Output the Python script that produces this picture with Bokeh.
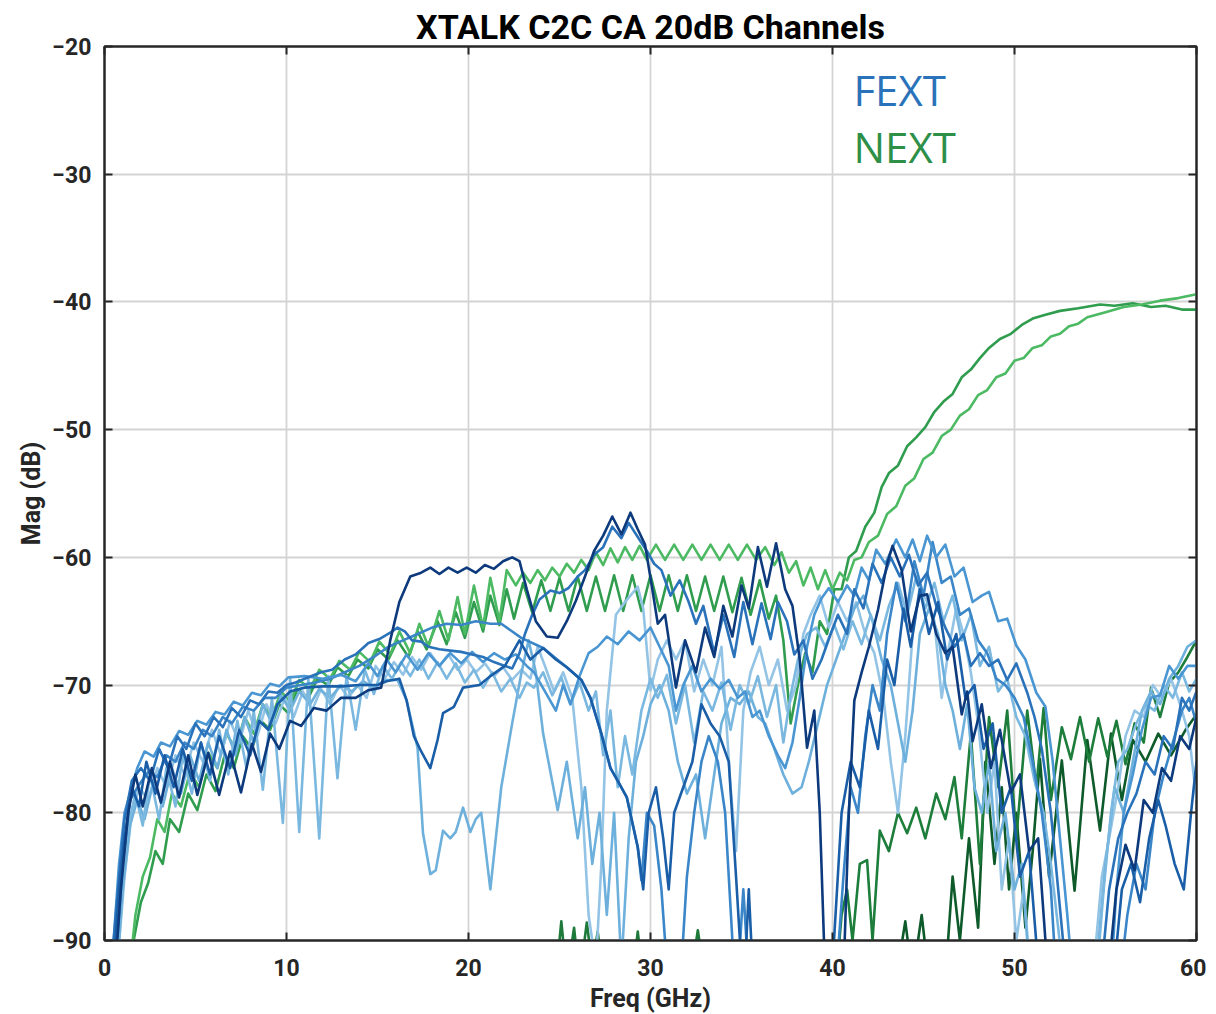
from bokeh.plotting import figure
from bokeh.models import LinearAxis, Label, FixedTicker, Range1d
from bokeh.embed import file_html
from bokeh.resources import INLINE

title_text = "XTALK C2C CA 20dB Channels"
x_label = "Freq (GHz)"
y_label = "Mag (dB)"
x_ticks = [0, 10, 20, 30, 40, 50, 60]
y_ticks = [-90, -80, -70, -60, -50, -40, -30, -20]
legend_names = ["FEXT", "NEXT"]

# ---------------- NEXT curves (freq GHz, mag dB) ----------------
next_light = [(1.4, -92), (1.7, -88), (2.1, -85), (2.5, -83.5), (2.9, -80.5), (3.3, -81.5), (3.7, -78.5), (4.2, -79.5),
              (4.7, -76.8), (5.2, -78), (5.7, -75.3), (6.2, -76.5), (6.7, -73.8), (7.2, -75), (7.7, -72.5), (8.2, -73.8),
              (8.7, -71.5), (9.2, -72.5), (9.7, -70.5), (10.2, -71.3), (10.7, -69.6), (11.3, -70.3), (11.8, -68.8),
              (12.4, -69.5), (12.9, -68.1), (13.5, -68.8), (14, -67.4), (14.6, -68.2), (15.1, -66.6), (15.7, -67.6),
              (16.2, -65.8), (16.8, -67.5), (17.3, -65.2), (17.8, -67), (18.4, -64.2), (18.9, -66.5), (19.4, -63.1),
              (19.8, -66), (20.3, -62.2), (20.8, -65.5), (21.2, -61.6), (21.7, -65), (22.1, -61), (22.6, -62.2),
              (23, -61.2), (23.4, -62), (23.8, -61), (24.2, -61.8), (24.6, -60.8), (25, -61.5), (25.4, -60.5),
              (25.8, -61.2), (26.2, -60.2), (26.6, -61), (27, -59.6), (27.4, -60.6), (27.8, -59.3), (28.2, -60.4),
              (28.6, -59.2), (29, -60.2), (29.4, -59.1), (29.8, -60.2), (30.3, -59), (30.8, -60.2), (31.3, -59),
              (31.8, -60.2), (32.3, -59), (32.8, -60.2), (33.3, -59), (33.8, -60.2), (34.3, -59), (34.8, -60.2),
              (35.3, -59), (35.8, -60.2), (36.3, -59.2), (36.8, -60.6), (37.2, -59.6), (37.6, -61.2), (38, -60.3),
              (38.4, -62.2), (38.8, -60.8), (39.2, -62.5), (39.6, -61), (40, -62.5), (40.4, -61.2), (40.8, -61.8),
              (41.2, -60.2), (41.6, -60), (42, -58.8), (42.5, -58.3), (43, -56.6), (43.5, -56), (44, -54.4),
              (44.5, -53.8), (45, -52.3), (45.5, -51.8), (46, -50.5), (46.5, -50), (47, -48.9), (47.5, -48.4),
              (48, -47.3), (48.5, -46.9), (49, -45.9), (49.5, -45.6), (50, -44.6), (50.5, -44.4), (51, -43.6),
              (51.5, -43.4), (52, -42.7), (52.5, -42.5), (53, -41.9), (53.5, -41.7), (54, -41.2), (55, -40.8),
              (56, -40.4), (57, -40.2), (58, -39.9), (59, -39.7), (60, -39.4)]

next_mid = [(1.3, -92), (1.6, -90), (2, -87), (2.4, -85.5), (2.8, -83), (3.2, -84), (3.6, -80.5), (4.1, -81.5),
            (4.6, -78.5), (5.1, -79.8), (5.6, -77), (6.1, -78.3), (6.6, -75.5), (7.1, -76.5), (7.6, -74), (8.1, -75),
            (8.6, -72.8), (9.1, -73.5), (9.6, -71.5), (10.1, -72.2), (10.6, -70.3), (11.2, -71), (11.7, -69.5),
            (12.3, -70), (12.8, -68.6), (13.4, -69.3), (13.9, -68), (14.5, -68.7), (15, -67.2), (15.6, -68),
            (16.1, -66.5), (16.7, -67.8), (17.2, -65.8), (17.7, -67.2), (18.3, -65), (18.8, -66.8), (19.3, -64.3),
            (19.8, -66.3), (20.3, -63.5), (20.8, -65.8), (21.2, -63), (21.7, -65.3), (22.1, -62.5), (22.5, -64.8),
            (23, -62), (23.5, -64.3), (24, -61.8), (24.5, -64.2), (25, -61.6), (25.5, -64.2), (26, -61.5),
            (26.5, -64.2), (27, -61.5), (27.5, -64.2), (28, -61.4), (28.5, -64.2), (29, -61.4), (29.5, -64.2),
            (30, -61.4), (30.5, -64.2), (31, -61.4), (31.5, -64.2), (32, -61.4), (32.5, -64.2), (33, -61.5),
            (33.5, -64.2), (34, -61.5), (34.5, -64.3), (35, -61.6), (35.5, -64.5), (36, -61.8), (36.5, -64.8),
            (36.9, -63), (37.3, -66.5), (37.7, -73), (38.1, -70), (38.5, -67.5), (38.9, -69), (39.3, -65),
            (39.7, -66), (40.1, -62.5), (40.5, -62.5), (40.9, -60), (41.3, -59.5), (41.8, -57.6), (42.3, -56.5),
            (42.7, -54.5), (43.1, -53.4), (43.6, -52.8), (44.1, -51.3), (44.6, -50.6), (45.1, -49.8), (45.6, -48.6),
            (46.1, -47.8), (46.6, -47.2), (47.1, -45.9), (47.6, -45.3), (48.1, -44.4), (48.6, -43.6), (49.2, -42.9),
            (49.8, -42.5), (50.4, -41.8), (51, -41.3), (51.7, -41), (52.5, -40.7), (53.5, -40.5), (54.7, -40.2),
            (55.5, -40.3), (56.5, -40.1), (57.5, -40.4), (58.3, -40.3), (59.2, -40.6), (60, -40.6)]

next_dark = [(40.2, -93), (40.5, -88), (40.8, -86), (41.1, -90), (41.5, -84), (41.9, -83.7), (42.2, -90), (42.6, -81.4),
             (43.1, -83), (43.6, -80), (44.1, -81.6), (44.6, -79.6), (45.1, -82), (45.7, -78.5), (46.2, -80.5),
             (46.7, -77.2), (47.1, -82), (47.6, -73.8), (48.1, -84), (48.6, -72.5), (49.1, -78), (49.6, -72),
             (50.1, -82), (50.7, -72), (51.2, -78), (51.6, -71.8), (52, -79), (52.6, -73.3), (53.1, -75.8),
             (53.6, -72.5), (54.1, -76), (54.6, -72.6), (55.1, -75.6), (55.6, -72.8), (56.1, -76.2), (56.6, -73),
             (57.1, -74.5), (57.5, -70.2), (58, -72.5), (58.5, -69.8), (59, -69), (59.5, -67.8), (60, -66.5)]

next_darkest = [(43.5, -93), (44, -88.5), (44.4, -93), (44.9, -88), (45.3, -93), (46.2, -93), (46.6, -85), (47, -90),
                (47.5, -82), (48, -89), (48.4, -76), (48.9, -84), (49.3, -78), (49.7, -86), (50.1, -80), (50.6, -89),
                (51, -83), (51.4, -75.8), (51.9, -85), (52.6, -75.9), (53.3, -86.1), (54, -74.3), (54.7, -81.4),
                (55.3, -73.8), (55.9, -79), (56.5, -74.3), (57.2, -76), (57.9, -73.8), (58.6, -75.5), (59.4, -73.5),
                (60, -72.3)]

next_floor = [(24.8, -93), (25.1, -88.5), (25.4, -93), (25.8, -89), (26.1, -93), (26.5, -88.6), (26.8, -92),
              (27.1, -89.3), (27.4, -93), (29, -93), (29.3, -89.3), (29.6, -93), (32.2, -93), (32.6, -89.2),
              (33, -93)]

# ---------------- FEXT curves (freq GHz, mag dB) ----------------
fext_navy = [(0.6, -92), (0.9, -86), (1.3, -80), (1.7, -77), (2.1, -79.5), (2.6, -76.5), (3.1, -79.2), (3.6, -76),
             (4.1, -78.8), (4.6, -75.5), (5.1, -78.6), (5.7, -75.3), (6.3, -78.6), (6.9, -75.2), (7.5, -78.4),
             (8.1, -74.6), (8.6, -76.8), (9.1, -73.8), (9.6, -75), (10.2, -72.8), (10.8, -73.2), (11.5, -71.8),
             (12.2, -72), (13, -71), (13.8, -71), (14.5, -70.4), (15.2, -70.2), (15.7, -66.5), (16.2, -63.5),
             (16.8, -61.5), (17.4, -61.2), (17.9, -60.8), (18.4, -61.3), (18.9, -60.8), (19.4, -61.2), (19.9, -60.8),
             (20.4, -61.2), (20.9, -60.6), (21.4, -60.9), (21.9, -60.3), (22.4, -60), (22.8, -60.3), (23.2, -62.5),
             (23.7, -65), (24.3, -66.2), (24.9, -66.3), (25.4, -65), (25.9, -63.4), (26.4, -61.5), (26.9, -59.5),
             (27.4, -58.3), (27.9, -56.8), (28.4, -58.2), (28.9, -56.5), (29.3, -57.8), (29.7, -59), (30.1, -62.5),
             (30.4, -65.2), (30.8, -64.5), (31.4, -70.2), (31.9, -66.5), (32.5, -69), (33, -65.5), (33.5, -67.8),
             (34, -63.8), (34.5, -66.2), (35, -62.2), (35.4, -64), (35.9, -59.2), (36.4, -62.3), (36.9, -58.9),
             (37.4, -62.5), (37.8, -63.8), (38.2, -68), (38.6, -74.9), (39, -72), (39.3, -80), (39.6, -93),
             (40.6, -93), (40.9, -80), (41.2, -71.2), (41.6, -69), (42, -67), (42.5, -64.1), (43, -60.5),
             (43.3, -59.1), (43.8, -61), (44.3, -65.8), (44.8, -63), (45.2, -62.9), (45.7, -66), (46.2, -67.5),
             (46.6, -67), (47.1, -72.3), (47.4, -70.5), (47.7, -74.4), (48.2, -71.5), (48.7, -76.5), (49.2, -73.5),
             (49.8, -78.4), (50.3, -77), (50.8, -83), (51.3, -82), (51.8, -92), (55.2, -92), (55.6, -86),
             (56.1, -82.5), (56.6, -84.5), (57.1, -79), (57.6, -80), (58.1, -76.5), (58.6, -77.5), (59.1, -74),
             (59.6, -75), (60, -72.5)]

fext_dark = [(0.5, -92), (0.8, -86), (1.1, -82), (1.5, -78), (1.9, -79.5), (2.3, -76), (2.8, -78.5), (3.3, -75.5),
             (3.8, -78), (4.3, -75), (4.8, -77.5), (5.3, -74.5), (5.8, -77), (6.3, -74), (6.9, -76.5), (7.4, -73.5),
             (8, -75.5), (8.5, -72.8), (9, -73.5), (9.5, -71.5), (10.2, -70.5), (11, -70.2), (12, -70.1), (13, -70.1),
             (14, -70), (15, -70), (15.5, -69.7), (16.2, -69.5), (16.6, -71.2), (17, -74), (17.4, -75.2), (17.9, -76.5),
             (18.3, -74.3), (18.6, -72.2), (19.2, -71.7), (19.7, -70.2), (20.6, -70), (21.3, -69.2), (22, -68.5),
             (22.8, -66.5), (23.4, -68), (24.1, -67.1), (24.8, -68), (25.4, -68.6), (26.2, -69.6), (26.7, -71),
             (27.3, -73.8), (27.8, -76.5), (28.2, -77.5), (28.7, -78.8), (29.3, -82.7), (29.6, -86), (29.9, -80),
             (30.3, -78), (30.7, -82), (31, -86), (31.3, -80), (31.8, -78), (32.3, -76), (32.8, -71.5), (33.3, -73),
             (33.8, -74), (34.3, -76), (34.7, -85), (35, -92), (35.2, -92), (35.4, -86), (35.6, -92), (39.5, -92),
             (40, -92), (40.5, -80), (41, -76), (41.5, -78), (42, -72), (42.5, -75), (43, -68), (43.4, -70),
             (43.9, -64), (44.3, -67), (44.8, -62.5), (45.3, -66), (45.8, -63.5), (46.3, -68), (46.8, -66),
             (47.3, -71), (47.8, -70), (48.3, -75), (48.8, -73), (49.3, -80), (49.8, -78), (50.3, -85), (50.8, -83),
             (51.3, -92), (55.5, -92), (55.9, -86), (56.4, -84), (56.9, -87), (57.4, -82), (57.9, -79), (58.3, -81),
             (58.8, -84), (59.3, -86), (59.7, -80), (60, -76)]

fext_mid = [(0.5, -90), (0.8, -85), (1.1, -80.5), (1.5, -77.5), (2, -76.5), (2.5, -77.5), (3, -75), (3.5, -76.5),
            (4, -74), (4.5, -75), (5, -73), (5.5, -74), (6, -72.5), (6.5, -73.3), (7, -71.8), (7.5, -72.5),
            (8, -71.2), (8.5, -71.5), (9, -70.5), (9.5, -70.6), (10, -70), (10.5, -69.8), (11, -69.5), (11.9, -69),
            (12.5, -68.8), (13.2, -68), (13.8, -67.6), (14.5, -66.7), (15.1, -66.4), (15.7, -65.9), (16.1, -65.5),
            (16.5, -65.8), (16.9, -66.5), (17.4, -66.6), (17.8, -67), (18.4, -67.2), (19, -67.3), (19.6, -67.4),
            (20.2, -67.6), (20.8, -67.8), (21.4, -68.2), (22, -68.5), (22.4, -68.7), (22.8, -67.5), (23.1, -66),
            (23.5, -64.5), (23.9, -63.3), (24.5, -62.6), (25, -62.8), (25.5, -62.4), (26, -61.5), (26.4, -61),
            (26.9, -59.8), (27.4, -59.2), (27.9, -57.6), (28.4, -58.5), (28.8, -57.3), (29.3, -58.4), (29.8, -59.5),
            (30.2, -60.5), (30.6, -61), (31.1, -63), (31.6, -61.8), (32.1, -63.5), (32.5, -65.2), (32.9, -63.8),
            (33.5, -67.5), (34, -64.5), (34.6, -67.8), (35.1, -63.5), (35.6, -66.8), (36.1, -63.6), (36.6, -66.4),
            (37, -63.5), (37.5, -65), (37.9, -67.6), (38.4, -66.5), (38.9, -69.5), (39.4, -68), (39.9, -66),
            (40.3, -64.5), (40.8, -66), (41.2, -62.5), (41.7, -64), (42.2, -60.5), (42.7, -62), (43.2, -60),
            (43.7, -61.5), (44.2, -59.8), (44.7, -62.2), (45.2, -61.2), (45.7, -63.8), (46.2, -65.5), (46.7, -67),
            (47.2, -66), (47.6, -68.5), (48.1, -67.5), (48.6, -68.5), (49.1, -68), (49.6, -69.6), (50.1, -68.3),
            (50.7, -70.6), (51.1, -72.5), (51.5, -75), (52, -80), (52.4, -86), (52.8, -92), (54.8, -92), (55.2, -86),
            (55.7, -82), (56.2, -80), (56.7, -78.5), (57.2, -76), (57.7, -77), (58.2, -74), (58.7, -75), (59.2, -71),
            (59.6, -72), (60, -70.5)]

fext_blue = [(0.5, -90), (0.8, -84), (1.1, -80), (1.4, -78.5), (1.8, -76.5), (2.2, -75.2), (2.7, -75.6), (3.1, -74.5),
             (3.6, -74.8), (4.1, -73.6), (4.6, -73.9), (5.1, -72.8), (5.6, -73.1), (6.1, -72.1), (6.6, -72.3),
             (7.1, -71.3), (7.6, -71.6), (8.1, -70.6), (8.6, -70.8), (9.1, -69.9), (9.6, -70.1), (10.1, -69.4),
             (11, -69.3), (12, -69.5), (13, -69.2), (13.8, -69.7), (14.5, -68.3), (15, -69.3), (15.5, -68), (16, -69),
             (16.6, -67.6), (17.2, -68.8), (17.8, -67.5), (18.4, -68.5), (19, -67.5), (19.6, -68.3), (20.2, -67.4),
             (20.8, -68.2), (21.4, -67.5), (22, -68), (22.6, -67.6), (23.2, -68.5), (23.6, -69), (24.2, -70.5),
             (24.8, -72), (25.2, -70), (25.6, -71.5), (26.1, -69.3), (26.6, -67.5), (27.1, -67), (27.6, -66.2),
             (28.2, -66.8), (28.8, -65.8), (29.4, -66.5), (30, -65.5), (30.5, -67), (31, -68.5), (31.4, -72),
             (31.8, -70), (32.3, -68.5), (32.8, -70.5), (33.3, -69.5), (33.8, -70.3), (34.3, -69.6), (34.8, -71),
             (35.2, -70.5), (35.6, -72.5), (36, -72), (36.5, -74), (37, -75.5), (37.4, -76.5), (37.8, -74.5),
             (38.2, -71), (38.6, -67), (39, -64.5), (39.4, -63.2), (39.8, -62.4), (40.3, -63.5), (40.8, -62.2),
             (41.2, -63), (41.6, -60.8), (42, -61.8), (42.4, -59.4), (42.9, -60.5), (43.5, -58.6), (44, -60),
             (44.4, -58.6), (44.8, -60.3), (45.2, -58.3), (45.7, -60), (46.2, -59), (46.7, -61.5), (47.2, -60.8),
             (47.7, -63.5), (48.2, -63), (48.6, -62.7), (49.1, -65), (49.6, -64.8), (50.1, -66.9), (50.6, -68),
             (51.2, -70.6), (51.7, -71.7), (52.1, -76), (52.5, -82), (52.9, -88), (53.2, -93), (55.3, -93),
             (55.6, -86), (56, -80), (56.5, -77), (57, -73.5), (57.5, -71), (58, -70.8), (58.5, -68.5), (59, -69.5),
             (59.5, -68.5), (60, -68.5)]

fext_light = [(0.6, -92), (0.9, -86), (1.3, -81), (1.7, -78.5), (2.1, -81), (2.5, -77), (3, -80.5), (3.4, -76.5),
              (3.9, -79.5), (4.3, -75.5), (4.8, -78.5), (5.3, -74.5), (5.8, -77.5), (6.3, -73.5), (6.8, -77),
              (7.3, -72.8), (7.8, -76.5), (8.2, -72), (8.7, -78.2), (9.2, -71), (9.8, -80.8), (10.2, -69.5),
              (10.7, -81.5), (11.2, -69.5), (11.8, -82), (12.3, -69.3), (12.8, -77.3), (13.3, -69.3), (13.8, -73.5),
              (14.3, -68.8), (14.8, -70.7), (15.3, -68.5), (15.8, -69.5), (16.3, -68.2), (16.8, -69.3), (17.3, -68),
              (17.8, -69.5), (18.3, -68.2), (18.8, -69.5), (19.3, -68.3), (19.8, -69.8), (20.3, -68.8), (20.8, -70.2),
              (21.3, -69), (21.8, -70.5), (22.3, -69.5), (22.8, -71), (23.2, -69.8), (23.6, -70.2), (24.1, -69),
              (24.6, -70.8), (25.1, -69.4), (25.6, -71.5), (26.1, -69.8), (26.6, -72), (27, -70.5), (27.4, -75.5),
              (27.8, -72), (28.2, -78), (28.6, -74), (29, -77), (29.5, -72), (30, -69.5), (30.4, -71), (30.9, -69.2),
              (31.4, -73), (31.9, -70), (32.4, -74.5), (32.9, -70.5), (33.4, -72), (33.9, -69.8), (34.4, -73.5),
              (34.9, -70), (35.4, -71.5), (35.9, -69.3), (36.4, -72.5), (36.9, -70), (37.3, -74.5), (37.7, -70.8),
              (38.1, -68), (38.6, -66), (39.1, -65.5), (39.6, -67), (40.1, -65.3), (40.6, -67.2), (41.1, -65),
              (41.6, -66.8), (42.1, -64.5), (42.6, -66.5), (43.1, -63.8), (43.6, -62), (44.1, -64.5), (44.6, -61.5),
              (45.1, -64), (45.6, -62), (46.1, -65), (46.6, -63), (47.1, -66.5), (47.6, -64.5), (48.1, -68.5),
              (48.6, -67), (49.1, -70.5), (49.6, -69.5), (50.1, -72.5), (50.6, -74), (51.1, -77.5), (51.6, -80),
              (52, -84), (52.4, -89), (52.7, -93), (54.5, -93), (54.9, -86), (55.3, -80), (55.7, -76), (56.2, -75),
              (56.7, -73), (57.2, -71.5), (57.7, -72), (58.2, -70), (58.7, -71), (59.2, -69), (59.6, -70.5),
              (60, -69.5)]

fext_light2 = [(0.7, -92), (1, -86), (1.4, -81), (1.8, -79), (2.2, -80.5), (2.7, -77.5), (3.2, -79.5), (3.7, -76.5),
               (4.2, -78.5), (4.7, -75.5), (5.2, -77.5), (5.7, -74.5), (6.2, -76.5), (6.7, -73.5), (7.2, -75.5),
               (7.7, -72.5), (8.2, -74.5), (8.7, -71.5), (9.2, -73), (9.7, -70.8), (10.2, -72), (10.7, -70.5),
               (11.3, -71.5), (11.8, -70.3), (12.4, -71), (13, -70), (13.6, -70.5), (14.2, -69.7), (14.8, -70.2),
               (15.4, -69.6), (16.1, -69.6), (16.6, -71.2), (17.2, -74.9), (17.5, -81.6), (17.9, -84.8), (18.2, -84.5),
               (18.6, -81.4), (19, -82), (19.3, -81.5), (19.7, -79.6), (20.1, -81.5), (20.4, -80.5), (20.7, -80),
               (21.2, -86), (21.8, -78), (22.4, -73), (22.9, -69.1), (23.3, -66.5), (23.7, -69), (24.1, -73.8),
               (24.9, -79.8), (25.4, -76), (26, -82), (26.4, -78), (26.8, -84), (27.2, -80), (27.6, -88), (28, -80),
               (28.4, -92), (28.8, -82), (29.2, -76), (29.6, -74), (30, -71.5), (30.5, -70), (31, -72), (31.5, -76),
               (32, -78.5), (32.5, -77), (33, -82), (33.4, -78), (33.9, -73), (34.4, -71), (34.9, -71.5), (35.4, -70.5),
               (35.9, -72.5), (36.3, -73), (36.8, -75), (37.3, -77), (37.8, -78.5), (38.3, -78), (38.7, -76),
               (39.2, -73), (39.7, -70), (40.2, -68), (40.7, -66), (41.2, -64), (41.7, -63), (42.2, -65), (42.7, -68),
               (43.2, -70), (43.6, -73), (44, -76), (44.4, -72), (44.8, -66), (45.3, -64), (45.8, -66), (46.2, -70),
               (46.6, -72), (47, -75), (47.4, -71.5), (47.8, -78), (48.2, -80), (48.6, -76), (49, -83), (49.5, -80),
               (50, -86), (50.4, -84), (50.8, -92), (54.5, -92), (55, -84), (55.5, -78), (56, -80), (56.5, -76),
               (57, -72), (57.5, -70.5), (58, -71.5), (58.5, -69.5), (59, -68.5), (59.5, -67), (60, -66.5)]

fext_pale = [(0.7, -92), (1.1, -85), (1.5, -80), (1.9, -78), (2.4, -79), (2.9, -76.5), (3.4, -78), (3.9, -75.5),
             (4.4, -77), (4.9, -74.5), (5.4, -76), (5.9, -73.5), (6.4, -75.5), (6.9, -72.8), (7.4, -74.5), (7.9, -72),
             (8.4, -74), (8.9, -71.5), (9.4, -73), (9.9, -71), (10.4, -72.5), (10.9, -70.5), (11.4, -72), (11.9, -70.3),
             (12.4, -71.5), (12.9, -70), (13.4, -71), (13.9, -70), (14.4, -71), (14.9, -68.5), (15.4, -69.5),
             (15.9, -68.2), (16.4, -69.2), (16.9, -67.8), (17.4, -68.8), (17.9, -67.5), (18.4, -68.5), (18.9, -67.6),
             (19.4, -68.8), (19.9, -68), (20.4, -69), (20.9, -68.3), (21.4, -69.3), (21.9, -68.6), (22.4, -69.6),
             (22.9, -68.8), (23.4, -69.5), (23.8, -67), (24.2, -68.5), (24.7, -70.5), (25.2, -69), (25.7, -71),
             (26.2, -78), (26.6, -88), (27, -92), (27.3, -84), (27.6, -72), (28.1, -64.5), (28.6, -63.5),
             (29.3, -62.3), (29.6, -64), (30, -70.4), (30.4, -68), (30.9, -66.5), (31.4, -68), (31.9, -66.5),
             (32.4, -70.5), (32.9, -68), (33.4, -70), (33.9, -67), (34.4, -78), (34.7, -83), (35.1, -72), (35.5, -69),
             (36, -67), (36.5, -70), (37, -68), (37.5, -72), (38, -70), (38.4, -66), (38.8, -64.5), (39.3, -63),
             (39.8, -65.5), (40.3, -63.5), (40.8, -65), (41.3, -63.5), (41.8, -66), (42.3, -67.5), (42.8, -71),
             (43.2, -76), (43.6, -80), (44, -74), (44.4, -66), (44.8, -62.3), (45.2, -63.5), (45.6, -65), (46, -71),
             (46.4, -67), (46.8, -64), (47.2, -66), (47.6, -69), (48, -73), (48.5, -80), (48.9, -76), (49.3, -86),
             (49.7, -82), (50.1, -90), (50.5, -86), (50.9, -93), (54.3, -93), (54.8, -85), (55.2, -82), (55.7, -78),
             (56.1, -74), (56.6, -72), (57.1, -72.5), (57.6, -70), (58.1, -71), (58.6, -69.5), (59.1, -71.5),
             (59.6, -74), (60, -79)]

fext_steel = [(0.6, -92), (1, -84), (1.4, -79), (1.9, -77.8), (2.4, -76.8), (2.9, -77.2), (3.4, -75.5), (3.9, -76),
              (4.4, -74.5), (4.9, -75), (5.4, -73.5), (5.9, -74), (6.5, -72.5), (7, -73), (7.6, -71.7), (8.2, -72),
              (8.8, -71), (9.4, -71), (10, -70.2), (10.8, -70), (11.6, -69.8), (12.4, -69.5), (13.2, -69), (14, -68.5),
              (14.8, -67.8), (15.6, -67), (16.4, -66.5), (17.2, -66), (18, -65.5), (18.8, -65.2), (19.6, -65.3),
              (20.4, -65), (21.2, -65.2), (21.8, -65.2), (22.9, -66.3), (24.1, -67.1), (25.4, -68.6), (26.2, -69.6),
              (26.7, -71), (27.3, -73.8), (27.8, -76.5), (28.2, -77.5), (28.7, -78.8), (29.3, -82.7), (29.5, -85.3),
              (29.8, -80), (30.2, -81), (30.6, -86), (30.9, -92), (31.7, -92), (32, -85), (32.4, -80), (32.8, -76),
              (33.2, -74), (33.7, -76), (34.1, -80), (34.5, -90), (34.8, -93), (35.1, -86), (35.4, -93), (40.2, -93),
              (40.6, -85), (41, -78), (41.4, -80), (41.8, -74), (42.2, -70), (42.6, -72), (43, -66), (43.5, -62),
              (44, -65), (44.5, -60.3), (45, -63), (45.5, -58.8), (46, -62), (46.5, -61.5), (47, -64.5), (47.5, -64),
              (48, -66.5), (48.5, -67.5), (49, -69.5), (49.5, -70), (50, -71), (50.5, -72.5), (51, -76), (51.5, -80),
              (52, -86), (52.3, -93), (55.8, -93), (56.2, -88), (56.7, -84), (57.2, -86), (57.7, -80), (58.2, -77),
              (58.7, -74.5), (59.2, -72), (59.6, -71), (60, -73)]

# series drawn in order: (points, colour)
series = [
    (next_floor, "#1d7a3a"),
    (next_darkest, "#0d5a2a"),
    (next_dark, "#1d7d3b"),
    (next_mid, "#2f9c4e"),
    (next_light, "#4cb963"),
    (fext_pale, "#93c4e6"),
    (fext_light2, "#6eb0dc"),
    (fext_light, "#7ab8e0"),
    (fext_steel, "#3a86c8"),
    (fext_blue, "#4a96d2"),
    (fext_mid, "#2a72ba"),
    (fext_dark, "#1a5ea8"),
    (fext_navy, "#0d3a7c"),
]

p = figure(frame_width=1092, frame_height=894,
           x_range=Range1d(0, 60), y_range=Range1d(-90, -20),
           output_backend="svg", toolbar_location=None,
           min_border_left=104, min_border_top=46, min_border_right=10, min_border_bottom=8,
           background_fill_color="white", border_fill_color="white")

for pts, col in series:
    xs = [a for a, b in pts]
    ys = [b for a, b in pts]
    p.line(xs, ys, line_color=col, line_width=2.6, line_join="round")

tick_font = "Roboto"
ax_col = "#262626"

p.title.text = title_text
p.title.align = "center"
p.title.text_font = tick_font
p.title.text_font_size = "34px"
p.title.text_font_style = "bold"
p.title.text_color = "#000000"
p.title.standoff = 0

for ax in [p.xaxis[0], p.yaxis[0]]:
    ax.major_label_text_font = tick_font
    ax.major_label_text_font_size = "23px"
    ax.major_label_text_font_style = "bold"
    ax.major_label_text_color = ax_col
    ax.axis_label_text_font = tick_font
    ax.axis_label_text_font_size = "25px"
    ax.axis_label_text_font_style = "bold"
    ax.axis_label_text_color = ax_col
    ax.axis_line_color = ax_col
    ax.axis_line_width = 2
    ax.major_tick_line_color = ax_col
    ax.major_tick_line_width = 2
    ax.major_tick_in = 8
    ax.major_tick_out = 0
    ax.minor_tick_line_color = None

p.xaxis[0].ticker = FixedTicker(ticks=x_ticks)
p.yaxis[0].ticker = FixedTicker(ticks=y_ticks)
p.xaxis[0].axis_label = x_label
p.yaxis[0].axis_label = y_label
p.xaxis[0].major_label_standoff = 18
p.yaxis[0].major_label_standoff = 13
p.xaxis[0].axis_label_standoff = 5
p.yaxis[0].axis_label_standoff = 3

for loc, ticks in [("above", x_ticks), ("right", y_ticks)]:
    ax = LinearAxis(ticker=FixedTicker(ticks=ticks))
    ax.major_label_text_color = None
    ax.major_label_text_font_size = "1px"
    ax.major_label_standoff = 0
    ax.axis_line_color = ax_col
    ax.axis_line_width = 2
    ax.major_tick_line_color = ax_col
    ax.major_tick_line_width = 2
    ax.major_tick_in = 8
    ax.major_tick_out = 0
    ax.minor_tick_line_color = None
    p.add_layout(ax, loc)

p.xgrid.ticker = FixedTicker(ticks=x_ticks)
p.ygrid.ticker = FixedTicker(ticks=y_ticks)
p.grid.grid_line_color = "#d4d4d4"
p.grid.grid_line_width = 1.8
p.outline_line_color = ax_col
p.outline_line_width = 2

leg_colors = ["#2a73ba", "#2d8f48"]
leg_y = [-23.4, -27.85]
for name, col, yy in zip(legend_names, leg_colors, leg_y):
    p.add_layout(Label(x=41.15, y=yy, text=name, text_color=col, text_font="Open Sans",
                       text_font_size="42px", text_baseline="alphabetic", text_align="left"))

open("out.html", "w").write(file_html(p, INLINE))
